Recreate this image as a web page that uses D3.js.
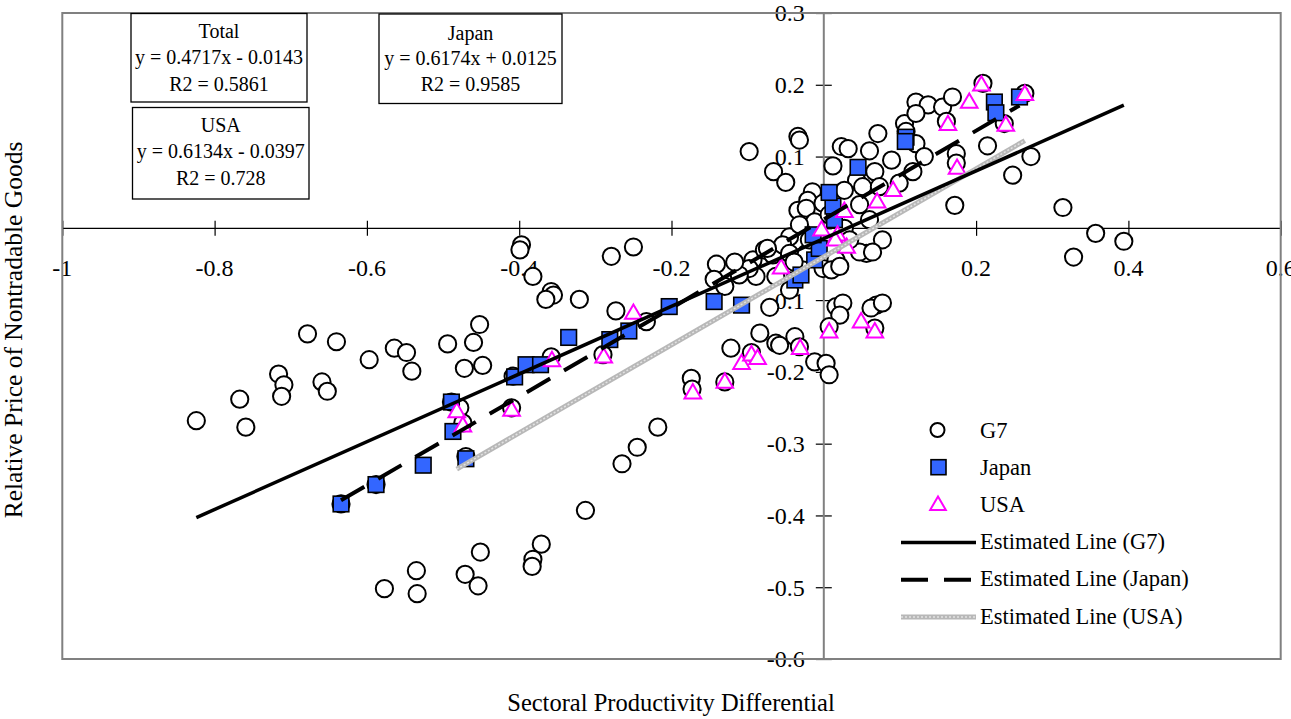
<!DOCTYPE html>
<html><head><meta charset="utf-8">
<script src="https://cdn.jsdelivr.net/npm/d3@7"></script>
<style>
body{margin:0;background:#fff}
svg{display:block}
text{font-family:"Liberation Serif","Times New Roman",serif;fill:#000}
</style>
</head><body>
<svg id="c" width="1291" height="719"></svg>
<script>
// ---------- data ----------
const g7X = [-0.824,-0.767,-0.759,-0.678,-0.640,-0.716,-0.709,-0.712,-0.659,-0.652,-0.597,-0.564,-0.548,-0.541,-0.494,-0.460,-0.452,-0.472,-0.448,-0.489,-0.478,-0.474,-0.470,-0.634,-0.588,
 -0.265,-0.245,-0.218,-0.313,-0.371,-0.382,-0.383,-0.451,-0.471,-0.454,-0.535,-0.534,-0.577,
 -0.397,-0.399,-0.382,-0.358,-0.355,-0.365,-0.321,-0.279,-0.250,-0.273,-0.233,-0.358,-0.290,-0.174,-0.173,-0.130,-0.122,-0.095,-0.084,-0.063,-0.071,-0.141,-0.144,-0.130,-0.089,-0.093,-0.078,-0.067,
 -0.098,-0.034,-0.032,-0.066,-0.050,-0.015,-0.034,-0.021,-0.045,-0.054,-0.074,-0.098,-0.045,-0.023,-0.063,-0.045,0.016,-0.001,0.010,0.056,0.016,0.025,0.069,
 0.023,0.032,0.012,0.060,0.071,0.067,-0.023,-0.001,0.043,0.051,0.073,0.099,0.106,0.108,0.121,0.137,0.121,0.156,0.169,0.121,0.132,0.117,0.174,0.215,0.248,0.272,0.172,0.174,0.209,0.264,0.237,0.161,
 0.314,0.357,0.394,0.328,0.077,0.047,0.064,0.021,0.021,0.007,0.062,0.077,0.067,-0.058,-0.038,-0.032,-0.012,0.003,0.007,
 -0.012,0.007,0.027,0.034,-0.019,-0.032,-0.039,0.027,0.047,0.060,0.089,-0.111,-0.117,-0.410,-0.408];
const g7Y = [-0.268,-0.238,-0.277,-0.147,-0.158,-0.203,-0.218,-0.234,-0.214,-0.227,-0.183,-0.167,-0.173,-0.199,-0.161,-0.159,-0.134,-0.195,-0.191,-0.242,-0.250,-0.271,-0.318,-0.384,-0.357,
 -0.328,-0.305,-0.277,-0.393,-0.440,-0.461,-0.471,-0.451,-0.482,-0.498,-0.477,-0.509,-0.502,
 -0.023,-0.030,-0.067,-0.088,-0.093,-0.099,-0.099,-0.039,-0.026,-0.115,-0.130,-0.179,-0.176,-0.209,-0.224,-0.214,-0.167,-0.173,-0.146,-0.160,-0.110,-0.050,-0.071,-0.081,-0.067,-0.044,-0.030,-0.037,
 0.107,0.128,0.123,0.079,0.064,0.051,0.025,0.039,-0.012,-0.023,-0.028,-0.056,-0.035,-0.035,-0.067,-0.086,-0.044,-0.056,-0.058,-0.035,-0.109,-0.104,-0.107,
 0.114,0.111,0.087,0.108,0.132,0.079,0.028,0.035,0.067,0.058,0.058,0.063,0.146,0.135,0.176,0.172,0.160,0.169,0.183,0.118,0.100,0.079,0.104,0.115,0.074,0.100,0.032,0.091,0.202,0.188,0.146,0.149,
 0.029,-0.007,-0.018,-0.040,-0.016,-0.033,-0.033,-0.053,-0.121,-0.137,-0.111,-0.104,-0.139,-0.163,-0.151,-0.165,-0.186,-0.188,-0.204,
 0.009,0.019,0.000,-0.016,-0.016,0.005,-0.047,0.053,0.033,0.012,0.095,-0.065,-0.047,-0.250,-0.206];

const japanX = [-0.634,-0.588,-0.526,-0.470,-0.487,-0.489,-0.406,-0.391,-0.372,-0.335,-0.281,-0.256,-0.203,-0.144,-0.108,-0.038,-0.030,-0.012,-0.006,-0.014,0.014,0.012,0.007,0.045,0.108,0.107,0.224,0.226,0.257];
const japanY = [-0.384,-0.357,-0.330,-0.321,-0.283,-0.242,-0.207,-0.190,-0.190,-0.152,-0.155,-0.143,-0.109,-0.102,-0.107,-0.072,-0.065,-0.044,-0.028,-0.009,0.012,0.031,0.050,0.085,0.127,0.121,0.176,0.161,0.183];

const usaX = [-0.482,-0.474,-0.410,-0.357,-0.289,-0.250,-0.172,-0.130,-0.108,-0.095,-0.087,-0.056,-0.031,-0.003,0.018,0.030,0.027,0.007,0.049,0.067,0.070,0.091,0.175,0.163,0.191,0.207,0.239,0.264,0.015];
const usaY = [-0.255,-0.275,-0.253,-0.184,-0.179,-0.118,-0.229,-0.214,-0.188,-0.176,-0.181,-0.055,-0.167,-0.002,-0.009,-0.026,0.024,-0.144,-0.130,-0.144,0.037,0.053,0.084,0.145,0.176,0.200,0.144,0.187,-0.016];

// regression lines: [slope, intercept]
const fitG7 = [0.4717, -0.0143];
const fitJapan = [0.6174, 0.0125];
const fitUSA = [0.6134, -0.0397];

const xTickValues = [-1,-0.8,-0.6,-0.4,-0.2,0,0.2,0.4,0.6];
const xTickLabels = ["-1","-0.8","-0.6","-0.4","-0.2","0","0.2","0.4","0.6"];
const yTickValues = [0.3,0.2,0.1,0,-0.1,-0.2,-0.3,-0.4,-0.5,-0.6];
const yTickLabels = ["0.3","0.2","0.1","","-0.1","-0.2","-0.3","-0.4","-0.5","-0.6"];

const boxTotal = ["Total","y = 0.4717x - 0.0143","R2 = 0.5861"];
const boxUSA = ["USA","y = 0.6134x - 0.0397","R2 = 0.728"];
const boxJapan = ["Japan","y = 0.6174x + 0.0125","R2 = 0.9585"];
const legendLabels = ["G7","Japan","USA","Estimated Line (G7)","Estimated Line (Japan)","Estimated Line (USA)"];

// ---------- drawing ----------
const FONT = '"Liberation Serif","Times New Roman",serif';
const svg = d3.select("#c").attr("font-family",FONT);
svg.append("rect").attr("width",1291).attr("height",719).attr("fill","#fff");

const L = 62.3, R = 1280.7, T = 13, B = 659;
const x = d3.scaleLinear().domain([-1,0.6]).range([L,R]);
const y = d3.scaleLinear().domain([-0.6,0.3]).range([B,T]);

// x axis ticks at y=0
const xAxis = d3.axisBottom(x).tickValues(xTickValues).tickSize(0);
const gx = svg.append("g").attr("transform",`translate(0,${y(0)})`).call(xAxis);
gx.select(".domain").remove();
gx.selectAll(".tick text").remove();
gx.selectAll(".tick").append("line").attr("y1",-7.5).attr("y2",7.5).attr("stroke","#000").attr("stroke-width",1.2);
svg.append("line").attr("x1",L).attr("x2",R).attr("y1",y(0)).attr("y2",y(0)).attr("stroke","#000").attr("stroke-width",1.3);

// y axis ticks at x=0
const yAxis = d3.axisLeft(y).tickValues(yTickValues).tickSize(0);
const gy = svg.append("g").attr("transform",`translate(${x(0)},0)`).call(yAxis);
gy.select(".domain").remove();
gy.selectAll(".tick text").remove();
gy.selectAll(".tick").append("line").attr("x1",-8).attr("x2",8).attr("stroke","#000").attr("stroke-width",1.2);
svg.append("line").attr("x1",x(0)).attr("x2",x(0)).attr("y1",T).attr("y2",B).attr("stroke","#808080").attr("stroke-width",2);

// tick labels (drawn below points)
svg.append("g").selectAll("text").data(xTickValues).join("text")
  .attr("x",d=>x(d)).attr("y",y(0)+48).attr("text-anchor","middle")
  .style("font-family",FONT).attr("font-size",24).text((d,i)=>xTickLabels[i]);
svg.append("g").selectAll("text").data(yTickValues).join("text")
  .attr("x",x(0)-19).attr("y",d=>y(d)).attr("dy","0.35em").attr("text-anchor","end")
  .style("font-family",FONT).attr("font-size",24).text((d,i)=>yTickLabels[i]);

// plot frame
svg.append("rect").attr("x",L).attr("y",T).attr("width",R-L).attr("height",B-T)
  .attr("fill","none").attr("stroke","#808080").attr("stroke-width",2);

// G7 circles
const g7 = g7X.map((v,i)=>[v,g7Y[i]]);
svg.append("g").selectAll("circle").data(g7).join("circle")
  .attr("cx",d=>x(d[0])).attr("cy",d=>y(d[1])).attr("r",8.6)
  .attr("fill","#fff").attr("stroke","#000").attr("stroke-width",2);

// Japan squares
const jp = japanX.map((v,i)=>[v,japanY[i]]);
svg.append("g").selectAll("rect").data(jp).join("rect")
  .attr("x",d=>x(d[0])-7.8).attr("y",d=>y(d[1])-7.8).attr("width",15.6).attr("height",15.6)
  .attr("fill","#3366ff").attr("stroke","#000").attr("stroke-width",1.6);

// USA triangles
const us = usaX.map((v,i)=>[v,usaY[i]]);
const tri = d3.symbol().type(d3.symbolTriangle).size(120);
svg.append("g").selectAll("path").data(us).join("path")
  .attr("transform",d=>`translate(${x(d[0])},${y(d[1])+1})`).attr("d",tri())
  .attr("fill","#fff").attr("stroke","#ff00ff").attr("stroke-width",2);

// fitted lines over the range of each series
function fitLine(xs, fit){
  const e = d3.extent(xs);
  return e.map(v=>[v, fit[0]*v+fit[1]]);
}
const line = d3.line().x(d=>x(d[0])).y(d=>y(d[1]));
svg.append("path").attr("d",line(fitLine(usaX,fitUSA))).attr("fill","none").attr("stroke","#b8b8b8").attr("stroke-width",5);
svg.append("path").attr("d",line(fitLine(usaX,fitUSA))).attr("fill","none").attr("stroke","#e2e2e2").attr("stroke-width",1.5).attr("stroke-dasharray","2,2");
svg.append("path").attr("d",line(fitLine(japanX,fitJapan))).attr("fill","none").attr("stroke","#000").attr("stroke-width",4).attr("stroke-dasharray","27,16");
svg.append("path").attr("d",line(fitLine(g7X,fitG7))).attr("fill","none").attr("stroke","#000").attr("stroke-width",3.5);

// equation boxes
function box(lines, x0, y0, w, h, baselines){
  svg.append("rect").attr("x",x0).attr("y",y0).attr("width",w).attr("height",h)
    .attr("fill","#fff").attr("stroke","#000").attr("stroke-width",1.3);
  lines.forEach((t,i)=>{
    svg.append("text").attr("x",x0+w/2).attr("y",baselines[i]).attr("text-anchor","middle")
      .style("font-family",FONT).attr("font-size",20).text(t);
  });
}
box(boxTotal,131,13.5,176,88.5,[38,64,91]);
box(boxUSA,132.5,107.5,176.5,91.5,[132,158,185]);
box(boxJapan,379,14,183,89.5,[40,65,91]);

// legend
const lgX = 980, lgY0 = 430, lgStep = 37.2;
const lg = svg.append("g");
lg.append("circle").attr("cx",937.5).attr("cy",lgY0).attr("r",7).attr("fill","#fff").attr("stroke","#000").attr("stroke-width",2);
lg.append("rect").attr("x",931).attr("y",lgY0+lgStep-7.5).attr("width",15).attr("height",15).attr("fill","#3366ff").attr("stroke","#000").attr("stroke-width",1.6);
lg.append("path").attr("transform",`translate(938,${lgY0+2*lgStep+1})`).attr("d",d3.symbol().type(d3.symbolTriangle).size(105)()).attr("fill","#fff").attr("stroke","#ff00ff").attr("stroke-width",2);
const ly3 = lgY0+3*lgStep+1, ly4 = lgY0+4*lgStep+1, ly5 = lgY0+5*lgStep+1;
lg.append("line").attr("x1",901).attr("x2",976).attr("y1",ly3).attr("y2",ly3).attr("stroke","#000").attr("stroke-width",3.5);
lg.append("line").attr("x1",901).attr("x2",971).attr("y1",ly4).attr("y2",ly4).attr("stroke","#000").attr("stroke-width",4).attr("stroke-dasharray","27,16");
lg.append("line").attr("x1",901).attr("x2",976).attr("y1",ly5).attr("y2",ly5).attr("stroke","#b8b8b8").attr("stroke-width",5);
lg.append("line").attr("x1",901).attr("x2",976).attr("y1",ly5).attr("y2",ly5).attr("stroke","#e2e2e2").attr("stroke-width",1.5).attr("stroke-dasharray","2,2");
lg.selectAll("text").data(legendLabels).join("text")
  .attr("x",lgX).attr("y",(d,i)=>lgY0+i*lgStep+7.5).style("font-family",FONT).attr("font-size",22.5).text(d=>d);

// axis titles
svg.append("text").attr("x",671).attr("y",711).attr("text-anchor","middle").style("font-family",FONT).attr("font-size",24.5)
  .text("Sectoral Productivity Differential");
svg.append("text").attr("transform","translate(22,330) rotate(-90)").attr("text-anchor","middle").style("font-family",FONT).attr("font-size",25.5)
  .text("Relative Price of Nontradable Goods");
</script>
</body></html>
